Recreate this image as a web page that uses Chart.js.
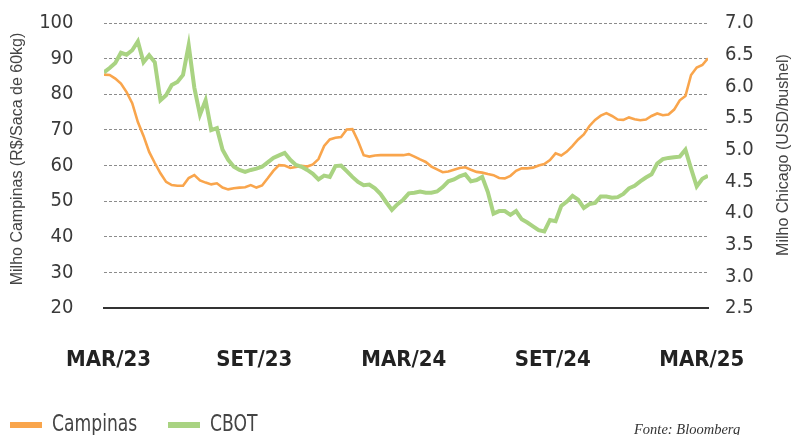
<!DOCTYPE html>
<html><head><meta charset="utf-8">
<script src="https://cdn.jsdelivr.net/npm/chart.js@4"></script>
<style>
html,body{margin:0;padding:0;background:#fff;width:792px;height:435px;overflow:hidden;}
#wrap{position:relative;width:792px;height:435px;overflow:hidden;}
#c{position:absolute;left:0;top:0;}
.leg{position:absolute;font-family:"Liberation Sans Narrow","DejaVu Sans Condensed",sans-serif;font-size:23px;line-height:23px;color:#444;white-space:nowrap;transform:scaleX(0.83);transform-origin:0 0;}
.sw{position:absolute;height:6px;width:32px;}
#fonte{position:absolute;left:634px;top:422px;font-family:"Liberation Serif",serif;font-style:italic;font-size:14.5px;line-height:14.5px;color:#333;white-space:nowrap;}
</style></head>
<body>
<div id="wrap">
<canvas id="c" width="792" height="435"></canvas>
<div class="sw" style="left:10px;top:422px;background:#F9A54C"></div>
<div class="leg" id="leg0" style="left:52px;top:412px"></div>
<div class="sw" style="left:168px;top:422px;background:#A9D382"></div>
<div class="leg" id="leg1" style="left:210px;top:412px"></div>
<div id="fonte">Fonte: Bloomberg</div>
</div>
<script>
// Series names
const seriesNames = ["Campinas", "CBOT"];
// Weekly observations, Mar/2023 – Mar/2025 (week index)
const weeks = [];
for (let i = 0; i < 108; i++) weeks.push(i);
// Milho Campinas (R$/saca de 60kg) – left axis
const campinas = [
 85.5, 85.4, 84.4, 83.0, 80.6, 77.5, 72.2, 68.3, 63.8, 60.7,
 57.8, 55.4, 54.5, 54.3, 54.3, 56.5, 57.3, 55.8, 55.2, 54.7,
 55.0, 53.8, 53.3, 53.6, 53.8, 53.9, 54.5, 53.8, 54.4, 56.4,
 58.5, 60.1, 60.0, 59.3, 59.6, 59.9, 59.7, 60.3, 61.8, 65.5,
 67.3, 67.8, 68.0, 70.1, 70.2, 66.9, 62.9, 62.5, 62.8, 62.9,
 62.9, 62.9, 62.9, 62.9, 63.2, 62.5, 61.7, 61.0, 59.7, 58.9,
 58.1, 58.3, 58.8, 59.3, 59.5, 58.8, 58.2, 58.0, 57.6, 57.3,
 56.5, 56.4, 57.1, 58.5, 59.2, 59.2, 59.4, 60.0, 60.4, 61.5,
 63.4, 62.8, 63.9, 65.5, 67.3, 68.7, 71.1, 72.8, 74.0, 74.7,
 73.9, 72.9, 72.8, 73.5, 73.0, 72.7, 72.9, 73.9, 74.6, 74.1,
 74.3, 75.7, 78.3, 79.5, 85.4, 87.5, 88.2, 90.1
];
// Milho Chicago CBOT (USD/bushel) – right axis
const cbot = [
 6.22, 6.29, 6.37, 6.53, 6.50, 6.57, 6.71, 6.38, 6.49, 6.38,
 5.78, 5.86, 6.02, 6.07, 6.18, 6.65, 5.98, 5.55, 5.78, 5.31,
 5.34, 5.00, 4.84, 4.73, 4.68, 4.65, 4.68, 4.70, 4.73, 4.80,
 4.87, 4.91, 4.95, 4.84, 4.76, 4.73, 4.68, 4.62, 4.53, 4.59,
 4.57, 4.74, 4.75, 4.66, 4.57, 4.49, 4.44, 4.45, 4.39, 4.30,
 4.17, 4.05, 4.14, 4.21, 4.31, 4.32, 4.34, 4.32, 4.32, 4.34,
 4.41, 4.50, 4.53, 4.58, 4.61, 4.50, 4.52, 4.57, 4.33, 3.99,
 4.03, 4.03, 3.97, 4.03, 3.90, 3.85, 3.79, 3.73, 3.71, 3.89,
 3.87, 4.11, 4.18, 4.27, 4.21, 4.08, 4.14, 4.16, 4.26, 4.26,
 4.24, 4.25, 4.30, 4.39, 4.43, 4.50, 4.56, 4.61, 4.78, 4.85,
 4.87, 4.88, 4.89, 5.00, 4.70, 4.42, 4.54, 4.59
];
// X tick labels and their week positions
const tickLabels = ["MAR/23", "SET/23", "MAR/24", "SET/24", "MAR/25"];
const tickWeeks = [0.8, 26.6, 53.1, 79.5, 105.9];
// Axis titles
const leftTitle = "Milho Campinas (R$/Saca de 60kg)";
const rightTitle = "Milho Chicago (USD/bushel)";

document.getElementById('leg0').textContent = seriesNames[0];
document.getElementById('leg1').textContent = seriesNames[1];

const NARROW = '"Liberation Sans Narrow","DejaVu Sans Condensed",sans-serif';

const axisTitles = {
  id: 'axisTitles',
  afterDraw(chart) {
    const ctx = chart.ctx;
    ctx.save();
    ctx.font = '16px "Liberation Sans", Arial, sans-serif';
    ctx.fillStyle = '#444';
    ctx.textAlign = 'center';
    ctx.textBaseline = 'middle';
    ctx.save(); ctx.translate(17.5, 159); ctx.rotate(-Math.PI / 2); ctx.fillText(leftTitle, 0, 0); ctx.restore();
    ctx.save(); ctx.translate(783.5, 155); ctx.rotate(-Math.PI / 2); ctx.fillText(rightTitle, 0, 0); ctx.restore();
    ctx.restore();
  }
};

const noVPad = s => { s.paddingTop = 0; s.paddingBottom = 0; };

new Chart(document.getElementById('c'), {
  type: 'line',
  data: {
    datasets: [
      { label: seriesNames[0], data: weeks.map((w, i) => ({x: w, y: campinas[i]})), yAxisID: 'yL',
        borderColor: '#F9A54C', borderWidth: 2.6, pointRadius: 0, tension: 0, order: 1 },
      { label: seriesNames[1], data: weeks.map((w, i) => ({x: w, y: cbot[i]})), yAxisID: 'yR',
        borderColor: '#A9D382', borderWidth: 4, pointRadius: 0, tension: 0, order: 0 }
    ]
  },
  options: {
    responsive: false, animation: false, devicePixelRatio: 1,
    layout: { padding: { top: 23, left: 0, right: 0, bottom: 0 } },
    plugins: { legend: { display: false }, tooltip: { enabled: false } },
    scales: {
      x: {
        type: 'linear', min: 0, max: 107,
        afterBuildTicks: s => { s.ticks = tickWeeks.map(v => ({ value: v })); },
        afterFit: s => { s.height = 127; s.paddingLeft = 0; s.paddingRight = 0; },
        grid: { display: false },
        border: { display: true, color: '#333', width: 2 },
        ticks: { autoSkip: false, maxRotation: 0, padding: 31, color: '#222',
          font: { family: NARROW, size: 22, weight: 'bold' },
          callback: (v, i) => tickLabels[i] }
      },
      yL: {
        position: 'left', min: 20, max: 100,
        afterFit: s => { s.width = 104; noVPad(s); },
        grid: { drawTicks: false, lineWidth: 1,
          color: c => (c.tick && c.tick.value === 20) ? 'rgba(0,0,0,0)' : '#8c8c8c' },
        border: { display: false, dash: [3, 2] },
        ticks: { stepSize: 10, autoSkip: false, padding: 30.5, color: '#3a3a3a',
          font: { family: NARROW, size: 20 }, callback: v => String(v) }
      },
      yR: {
        position: 'right', min: 2.5, max: 7.0,
        afterFit: s => { s.width = 84; noVPad(s); },
        grid: { display: false, drawTicks: false },
        border: { display: false },
        ticks: { stepSize: 0.5, autoSkip: false, padding: 17, color: '#3a3a3a',
          font: { family: NARROW, size: 20 }, callback: v => v.toFixed(1) }
      }
    }
  },
  plugins: [axisTitles]
});
</script>
</body></html>
